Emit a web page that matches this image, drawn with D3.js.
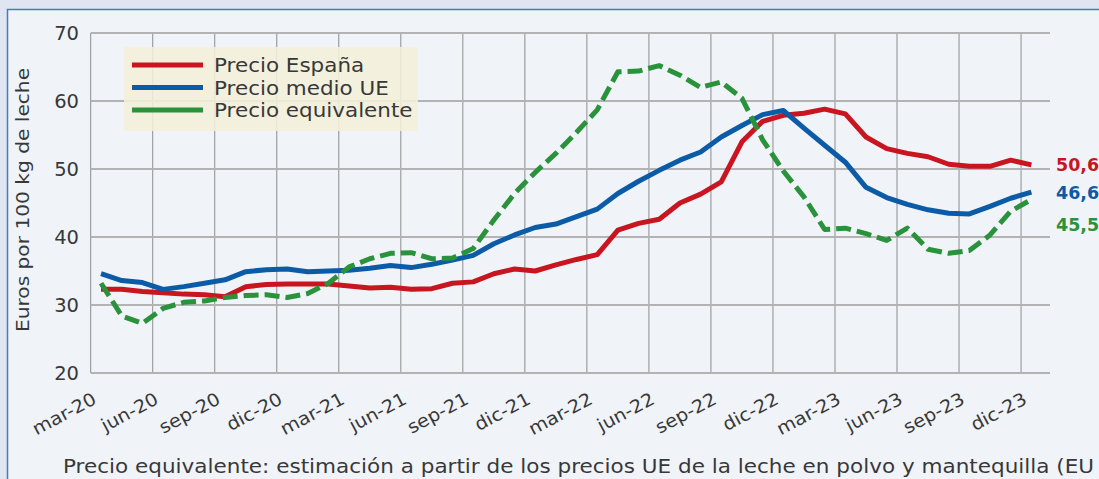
<!DOCTYPE html>
<html>
<head>
<meta charset="utf-8">
<script src="https://cdn.jsdelivr.net/npm/d3@7/dist/d3.min.js"></script>
<style>
  html, body { margin: 0; padding: 0; background: #dfe6f1; }
  svg { display: block; font-family: "DejaVu Sans", sans-serif; }
</style>
</head>
<body>
<svg id="chart" width="1099" height="479"></svg>
<script>
const tickLabels = ["mar-20","jun-20","sep-20","dic-20","mar-21","jun-21","sep-21","dic-21",
                    "mar-22","jun-22","sep-22","dic-22","mar-23","jun-23","sep-23","dic-23"];
const yTicks = [20, 30, 40, 50, 60, 70];
const seriesNames = ["Precio España", "Precio medio UE", "Precio equivalente"];
const precioEspana = [32.3,32.3,32.0,31.8,31.6,31.5,31.2,32.7,33.0,33.1,33.1,33.1,32.8,32.5,32.6,32.3,
  32.4,33.2,33.4,34.6,35.3,35.0,35.9,36.7,37.4,41.0,42.0,42.6,45.0,46.3,48.1,54.0,57.0,57.9,58.2,58.8,
  58.1,54.7,53.0,52.3,51.8,50.7,50.4,50.4,51.3,50.6];
const precioMedioUE = [34.6,33.6,33.3,32.3,32.7,33.2,33.7,34.9,35.2,35.3,34.9,35.0,35.1,35.4,35.8,35.5,
  36.0,36.6,37.3,39.0,40.3,41.4,41.9,43.0,44.1,46.4,48.2,49.8,51.3,52.5,54.7,56.4,58.0,58.6,56.0,53.5,
  51.0,47.3,45.8,44.8,44.0,43.5,43.4,44.5,45.7,46.6];
const precioEquivalente = [33.2,28.4,27.3,29.5,30.4,30.6,31.1,31.4,31.5,31.1,31.7,33.2,35.6,36.8,37.6,37.7,
  36.8,36.9,38.3,42.5,46.4,49.5,52.3,55.4,58.7,64.3,64.4,65.2,63.8,62.0,62.8,60.4,54.3,49.7,45.9,41.1,
  41.3,40.5,39.5,41.3,38.2,37.6,38.0,40.3,43.8,45.5];
const endLabels = ["50,6", "46,6", "45,5"];
const caption = "Precio equivalente: estimación a partir de los precios UE de la leche en polvo y mantequilla (EU";
const yTitle = "Euros por 100 kg de leche";

(function () {
const colors = ["#c8151f", "#0b5ba7", "#2a923a"];
const series = [precioEspana, precioMedioUE, precioEquivalente];

// stretch text horizontally to mimic the wide geometric face of the original
function widen(sel, k) {
  sel.each(function () {
    const L = this.getComputedTextLength();
    d3.select(this).attr("textLength", L * k).attr("lengthAdjust", "spacingAndGlyphs");
  });
}

const svg = d3.select("#chart");

// outer frame
svg.append("rect").attr("x", 7.5).attr("y", 9.5).attr("width", 1200).attr("height", 600)
  .attr("fill", "#f0f4f9").attr("stroke", "#3f7cc4").attr("stroke-width", 1.5);

const pLeft = 90.7, pRight = 1050, pTop = 33, pBottom = 373;
const x = d3.scaleLinear().domain([0, 46.4]).range([pLeft, pRight]);
const y = d3.scaleLinear().domain([20, 70]).range([pBottom, pTop]);

const g = svg.append("g");
// vertical gridlines
g.selectAll("line.v").data(tickLabels).enter().append("line")
  .attr("x1", (d, i) => x(i * 3)).attr("x2", (d, i) => x(i * 3))
  .attr("y1", pTop).attr("y2", pBottom)
  .attr("stroke", "#8c8c8c").attr("stroke-width", 1);

// horizontal gridlines
g.selectAll("line.h").data(yTicks).enter().append("line")
  .attr("x1", pLeft).attr("x2", pRight)
  .attr("y1", d => y(d)).attr("y2", d => y(d))
  .attr("stroke", "#b3b3b3").attr("stroke-width", 2);

// y tick labels
g.selectAll("text.yt").data(yTicks).enter().append("text")
  .attr("x", 79).attr("y", d => y(d) + 7)
  .attr("text-anchor", "end").attr("font-size", 19.5).attr("fill", "#383838")
  .text(d => d);

// x tick labels
const xt = g.selectAll("text.xt").data(tickLabels).enter().append("text")
  .attr("text-anchor", "end").attr("font-size", 18).attr("fill", "#383838")
  .attr("transform", (d, i) => `translate(${x(i * 3) + 7},${403}) rotate(-28)`)
  .text(d => d);
widen(xt, 1.08);

// y title
const yt = svg.append("text")
  .attr("transform", `translate(29,200) rotate(-90)`)
  .attr("text-anchor", "middle").attr("font-size", 18).attr("fill", "#383838")
  .text(yTitle);
widen(yt, 1.12);

// legend
const lg = svg.append("g");
lg.append("rect").attr("x", 124).attr("y", 47).attr("width", 294).attr("height", 84)
  .attr("fill", "#f3f0da").attr("fill-opacity", 0.88);
seriesNames.forEach((name, i) => {
  const ly = 65 + i * 22.5;
  lg.append("line").attr("x1", 132).attr("x2", 203).attr("y1", ly).attr("y2", ly)
    .attr("stroke", colors[i]).attr("stroke-width", 5);
  const t = lg.append("text").attr("x", 214).attr("y", ly + 7).attr("font-size", 19).attr("fill", "#383838")
    .text(name);
  widen(t, 1.13);
});

// lines
const line = d3.line().x((d, i) => x(i + 0.5)).y(d => y(d));
series.forEach((s, i) => {
  svg.append("path").datum(s).attr("d", line)
    .attr("fill", "none").attr("stroke", colors[i]).attr("stroke-width", 5)
    .attr("stroke-linejoin", "round")
    .attr("stroke-dasharray", i === 2 ? "15,6" : null);
});

// end labels
const lastY = series.map(s => y(s[s.length - 1]));
const labelY = [lastY[0] + 6, lastY[1] + 7, lastY[1] + 39];
endLabels.forEach((t, i) => {
  svg.append("text").attr("x", 1056).attr("y", labelY[i])
    .attr("font-size", 17.5).attr("font-weight", "bold").attr("fill", colors[i])
    .text(t);
});

// caption
const cap = svg.append("text").attr("x", 63).attr("y", 473).attr("font-size", 19).attr("fill", "#383838")
  .text(caption);
widen(cap, 1.133);
})();
</script>
</body>
</html>
